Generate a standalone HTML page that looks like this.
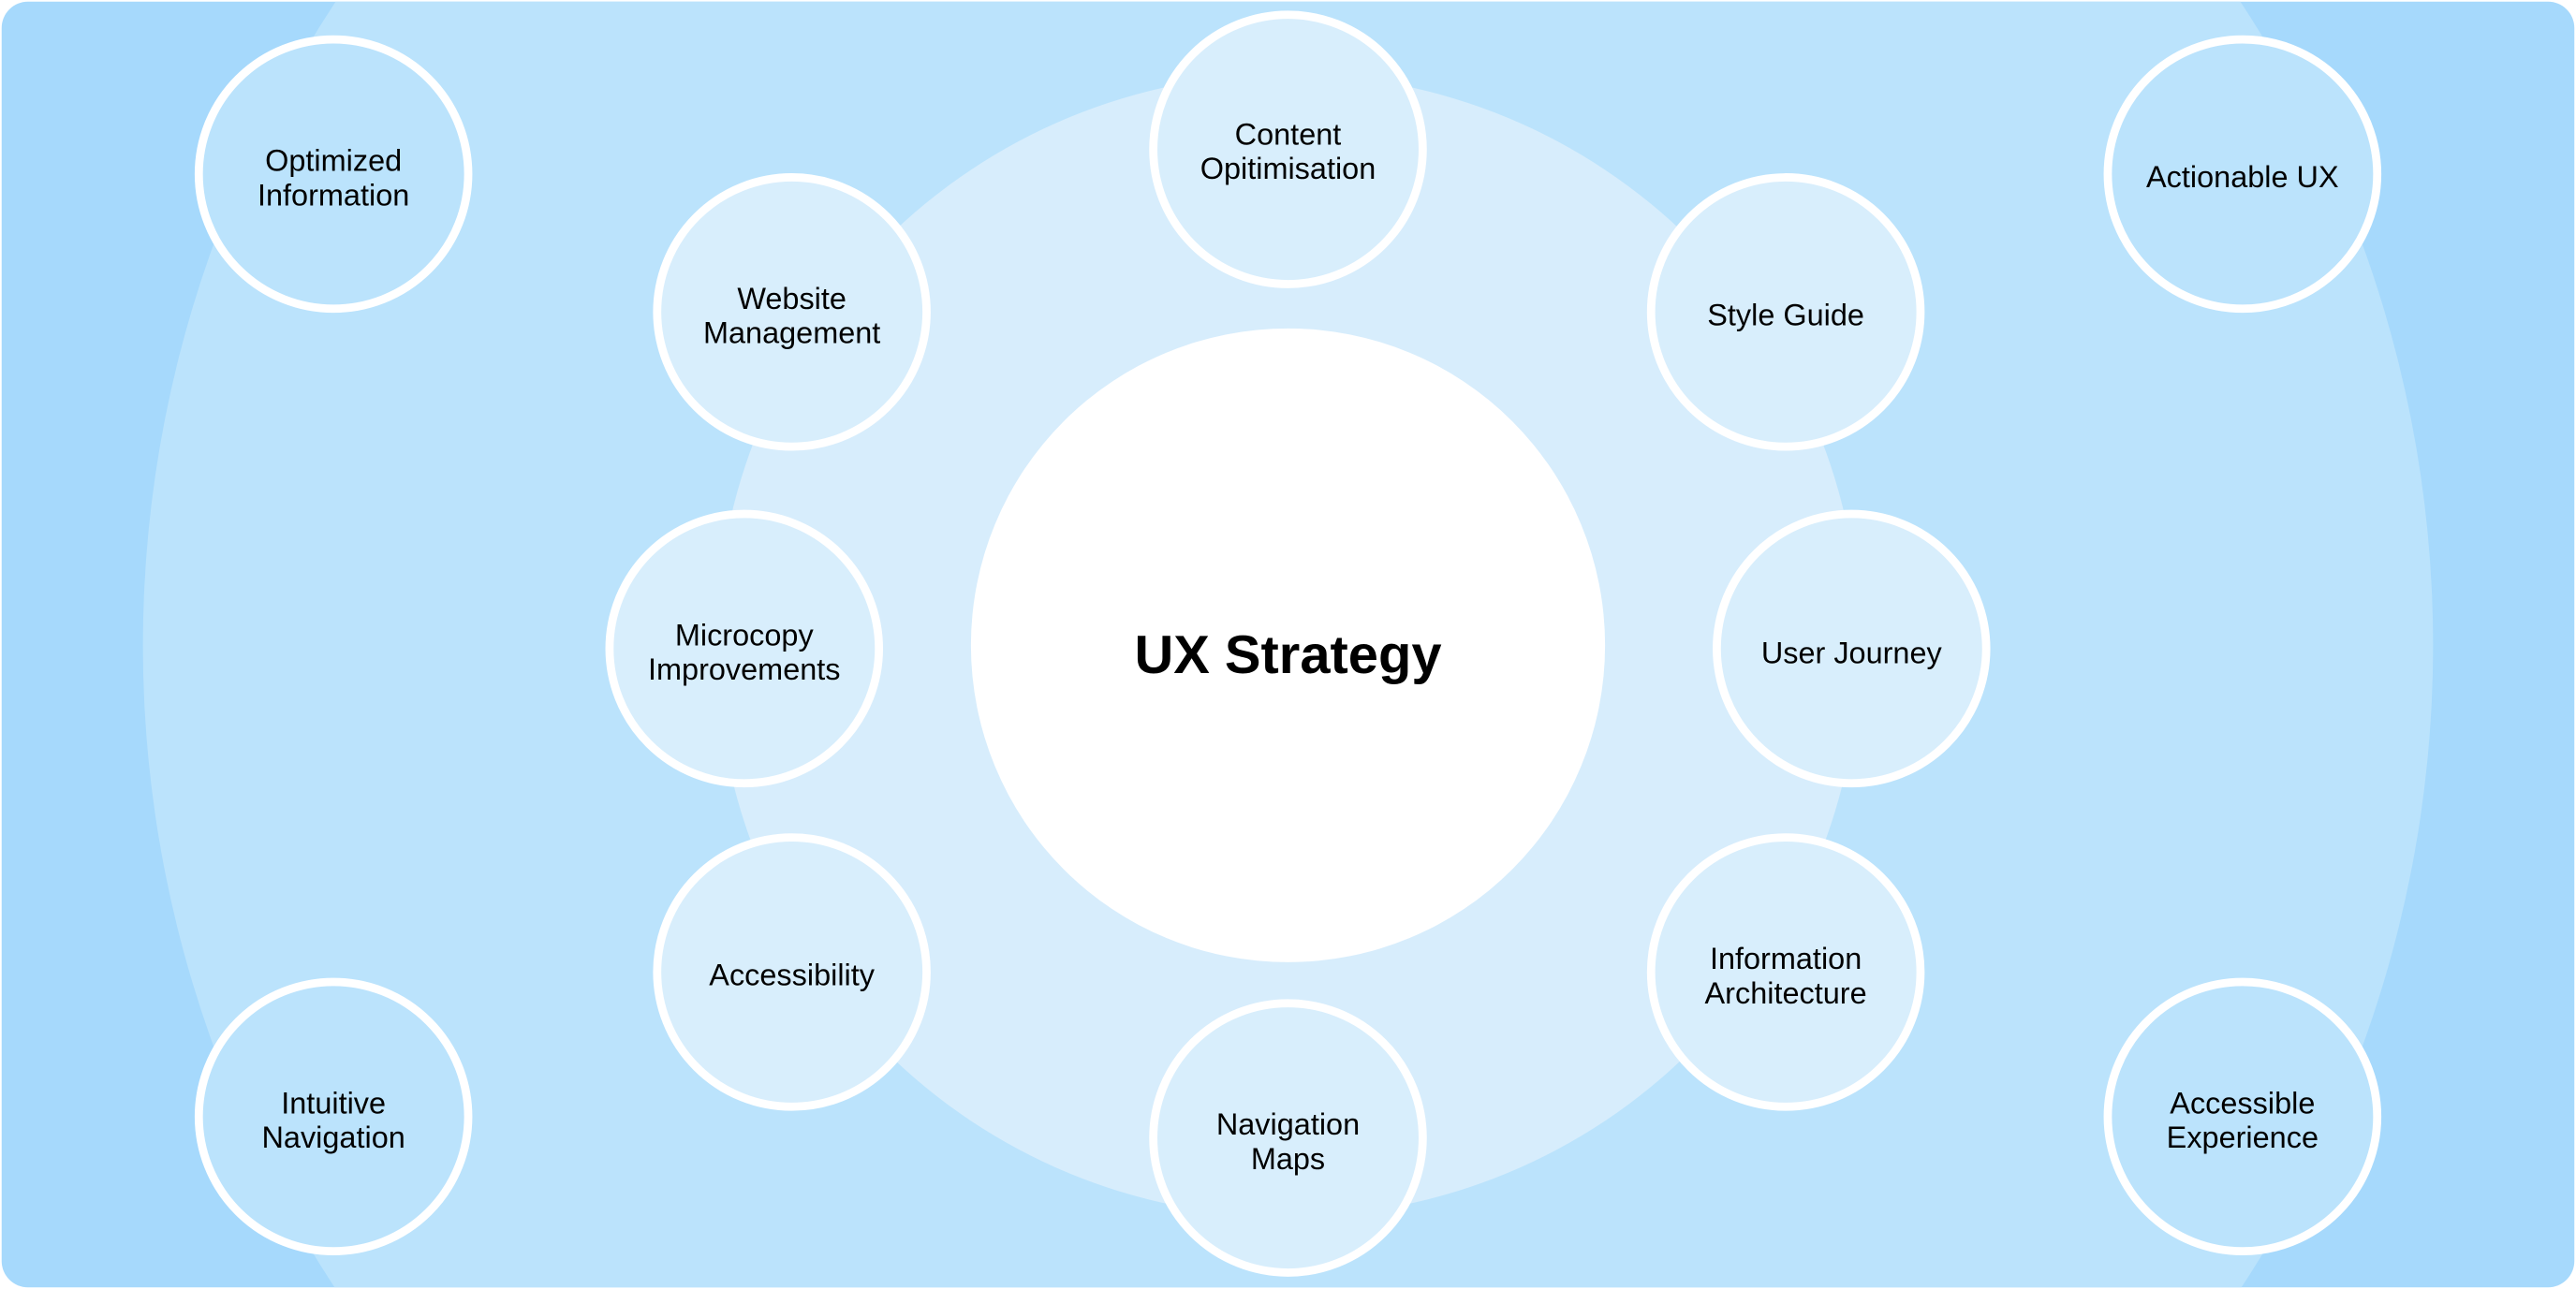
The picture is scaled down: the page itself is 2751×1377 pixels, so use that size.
<!DOCTYPE html>
<html><head><meta charset="utf-8"><style>
html,body{margin:0;padding:0;background:#fff;width:2751px;height:1377px;overflow:hidden;}
svg{display:block;width:2751px;height:1377px;position:absolute;left:0;top:0;}
text{font-family:"Liberation Sans",sans-serif;fill:#000;text-anchor:middle;}
</style></head><body>
<svg viewBox="0 0 1568 785" preserveAspectRatio="none" xmlns="http://www.w3.org/2000/svg">
<defs><clipPath id="c"><rect x="1" y="1" width="1566" height="783" rx="16"/></clipPath></defs>
<rect x="0" y="0" width="1568" height="785" fill="#fff"/>
<g clip-path="url(#c)">
<rect x="0" y="0" width="1568" height="785" fill="#a6d9fc"/>
<ellipse cx="784" cy="393" rx="697" ry="706" fill="#bbe3fc"/>
<circle cx="784" cy="393" r="348" fill="#d7edfc"/>
<circle cx="784" cy="393" r="193" fill="#fff"/>
<g fill="#d8eefc" stroke="#fff" stroke-width="5">
<circle cx="203" cy="106" r="82" fill="#bbe3fc"/>
<circle cx="1365" cy="106" r="82" fill="#bbe3fc"/>
<circle cx="203" cy="680" r="82" fill="#bbe3fc"/>
<circle cx="1365" cy="680" r="82" fill="#bbe3fc"/>
<circle cx="482" cy="190" r="82"/>
<circle cx="784" cy="91" r="82"/>
<circle cx="1087" cy="190" r="82"/>
<circle cx="453" cy="395" r="82"/>
<circle cx="1127" cy="395" r="82"/>
<circle cx="482" cy="592" r="82"/>
<circle cx="1087" cy="592" r="82"/>
<circle cx="784" cy="693" r="82"/>
</g>
</g>
<g font-size="18.5">
<text x="203" y="104">Optimized</text><text x="203" y="125">Information</text>
<text x="482" y="188">Website</text><text x="482" y="209">Management</text>
<text x="784" y="88">Content</text><text x="784" y="109">Opitimisation</text>
<text x="1087" y="198">Style Guide</text>
<text x="1365" y="114">Actionable UX</text>
<text x="453" y="393">Microcopy</text><text x="453" y="414">Improvements</text>
<text x="1127" y="404">User Journey</text>
<text x="482" y="600">Accessibility</text>
<text x="1087" y="590">Information</text><text x="1087" y="611">Architecture</text>
<text x="784" y="691">Navigation</text><text x="784" y="712">Maps</text>
<text x="203" y="678">Intuitive</text><text x="203" y="699">Navigation</text>
<text x="1365" y="678">Accessible</text><text x="1365" y="699">Experience</text>
</g>
<text x="784" y="410" font-size="33" font-weight="bold">UX Strategy</text>
</svg>
</body></html>
